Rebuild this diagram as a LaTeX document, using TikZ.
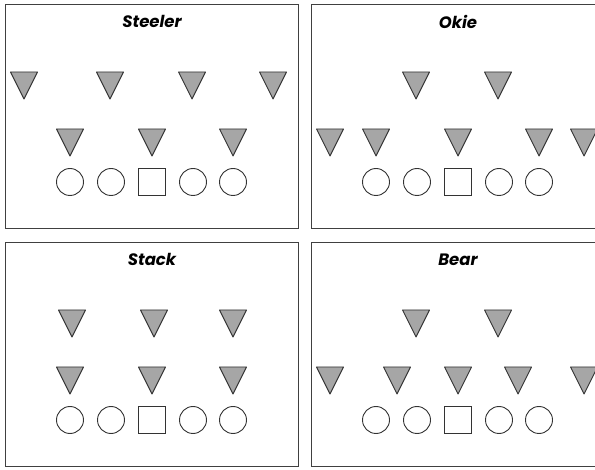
\documentclass[tikz,border=0pt]{standalone}
\usepackage{fontspec}
\newfontfamily\titlefont{Poppins}[BoldItalicFont={Poppins Bold Italic}]
\usepackage{tikz}

\begin{document}
\begin{tikzpicture}[x=1pt, y=-1pt,
  panel/.style={draw=black!75, line width=1pt},
  title/.style={font=\titlefont\bfseries\itshape\fontsize{16.5}{16.5}\selectfont},
  defender/.style={draw=black!80, fill=black!35, line width=0.9pt, line join=round},
  lineman/.style={draw=black!80, line width=0.9pt}]
\useasboundingbox (0,0) rectangle (595,470);
\clip (0,0) rectangle (595,470);
% Steeler:
\draw[panel] (5,5) rectangle (298,229);
\node[title] (steeler) at (152,21.5) {Steeler};
\foreach \x in {24,110,192,273} \draw[defender] (\x-13.5,72) -- ++(27,0) -- ++(-13.5,27) -- cycle;
\foreach \x in {70,152,233} \draw[defender] (\x-13.5,129) -- ++(27,0) -- ++(-13.5,27) -- cycle;
\foreach \x in {70,111,193,233} \draw[lineman] (\x,182) circle (13.5pt);
\draw[lineman] (138.5,168.5) rectangle ++(27,27);
% Okie:
\begin{scope}[shift={(306,0)}]
\draw[panel] (5,5) rectangle (298,229);
\node[title] (okie) at (152,21.5) {Okie};
\foreach \x in {110,192} \draw[defender] (\x-13.5,72) -- ++(27,0) -- ++(-13.5,27) -- cycle;
\foreach \x in {24,70,152,233,278} \draw[defender] (\x-13.5,129) -- ++(27,0) -- ++(-13.5,27) -- cycle;
\foreach \x in {70,111,193,233} \draw[lineman] (\x,182) circle (13.5pt);
\draw[lineman] (138.5,168.5) rectangle ++(27,27);
\end{scope}
% Stack:
\begin{scope}[shift={(0,238)}]
\draw[panel] (5,5) rectangle (298,229);
\node[title] (stack) at (152,21.5) {Stack};
\foreach \x in {72,154,233} \draw[defender] (\x-13.5,72) -- ++(27,0) -- ++(-13.5,27) -- cycle;
\foreach \x in {70,152,233} \draw[defender] (\x-13.5,129) -- ++(27,0) -- ++(-13.5,27) -- cycle;
\foreach \x in {70,111,193,233} \draw[lineman] (\x,182) circle (13.5pt);
\draw[lineman] (138.5,168.5) rectangle ++(27,27);
\end{scope}
% Bear:
\begin{scope}[shift={(306,238)}]
\draw[panel] (5,5) rectangle (298,229);
\node[title] (bear) at (152,21.5) {Bear};
\foreach \x in {110,192} \draw[defender] (\x-13.5,72) -- ++(27,0) -- ++(-13.5,27) -- cycle;
\foreach \x in {24,91,152,212,278} \draw[defender] (\x-13.5,129) -- ++(27,0) -- ++(-13.5,27) -- cycle;
\foreach \x in {70,111,193,233} \draw[lineman] (\x,182) circle (13.5pt);
\draw[lineman] (138.5,168.5) rectangle ++(27,27);
\end{scope}
\end{tikzpicture}
\end{document}
